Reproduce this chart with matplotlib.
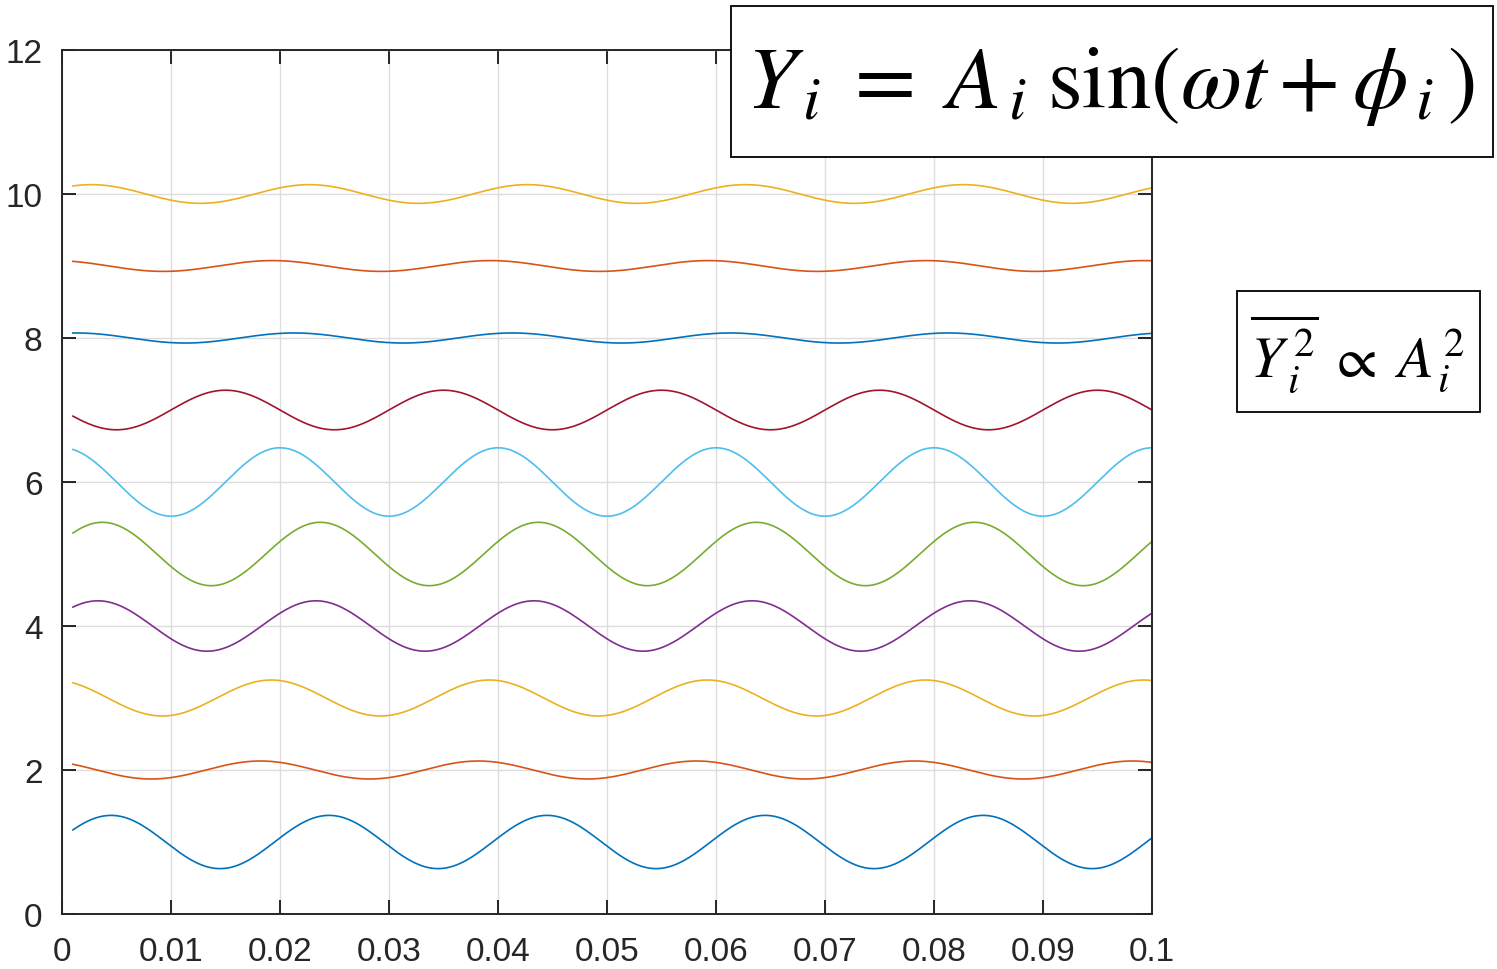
"""Десять синусоид со смещением по оси Y"""

import matplotlib
matplotlib.use("Agg")
import matplotlib.pyplot as plt
import numpy as np
from matplotlib.patches import Rectangle

plt.rcParams['mathtext.fontset'] = 'stix'
plt.rcParams['font.family'] = ['Liberation Sans', 'DejaVu Sans']

# параметры кривых
freq = 50.0
offsets = [1, 2, 3, 4, 5, 6, 7, 8, 9, 10]
amps = [0.37, 0.125, 0.25, 0.35, 0.44, 0.475, 0.275, 0.07, 0.075, 0.13]
phases = [0.157, 2.136, 1.822, 0.534, 0.408, 1.571, 3.142, 1.163, 1.791, 0.722]
colors = ['#0072BD', '#D95319', '#EDB120', '#7E2F8E', '#77AC30',
          '#4DBEEE', '#A2142F', '#0072BD', '#D95319', '#EDB120']

t = np.arange(0.001, 0.1 + 1e-9, 0.0002)
xticks = [0, 0.01, 0.02, 0.03, 0.04, 0.05, 0.06, 0.07, 0.08, 0.09, 0.1]
xticklabels = ['0', '0.01', '0.02', '0.03', '0.04', '0.05', '0.06', '0.07', '0.08', '0.09', '0.1']
yticks = [0, 2, 4, 6, 8, 10, 12]

W, H = 1497, 970
fig = plt.figure(figsize=(W / 100, H / 100), dpi=100)
ax = fig.add_axes([62 / W, 1 - 915 / H, (1152 - 62) / W, (915 - 51) / H])

for off, a, ph, c in zip(offsets, amps, phases, colors):
    y = off + a * np.sin(2 * np.pi * freq * t + ph)
    ax.plot(t, y, color=c, linewidth=1.2)

ax.set_xlim(0, 0.1)
ax.set_ylim(0, 12)
ax.set_xticks(xticks)
ax.set_xticklabels(xticklabels)
ax.set_yticks(yticks)
ax.grid(True, color='#dddddd', linewidth=1.0)
ax.set_axisbelow(True)
ax.tick_params(direction='in', length=10, width=1.4, top=True, right=True,
               labelsize=24, colors='#262626')
ax.tick_params(axis='x', pad=16)
ax.tick_params(axis='y', pad=14)
for s in ax.spines.values():
    s.set_linewidth(1.4)
    s.set_color('#262626')


def box(x0, y0, x1, y1):
    # рамка в пикселях картинки
    fig.patches.append(Rectangle((x0 / W, 1 - y1 / H), (x1 - x0) / W, (y1 - y0) / H,
                                 transform=fig.transFigure, facecolor='white',
                                 edgecolor='black', linewidth=1.3, zorder=5))


# формулы в рамках
box(731, 7, 1493, 158)
fig.text(1110 / W, 1 - 86 / H, r'$Y_{\,i}\;=\;A_{\,i}\;\sin(\omega t+\phi_{\,i}\,)$',
         fontsize=64, ha='center', va='center', zorder=6)
box(1237, 292, 1480, 413)
fig.text(1358 / W, 1 - 354 / H, r'$\overline{Y_{\,i}^{\,\mathrm{2}}}\;\propto\;A_{\,i}^{\,\mathrm{2}}$',
         fontsize=42, ha='center', va='center', zorder=6)

fig.savefig('out.png', dpi=100)
